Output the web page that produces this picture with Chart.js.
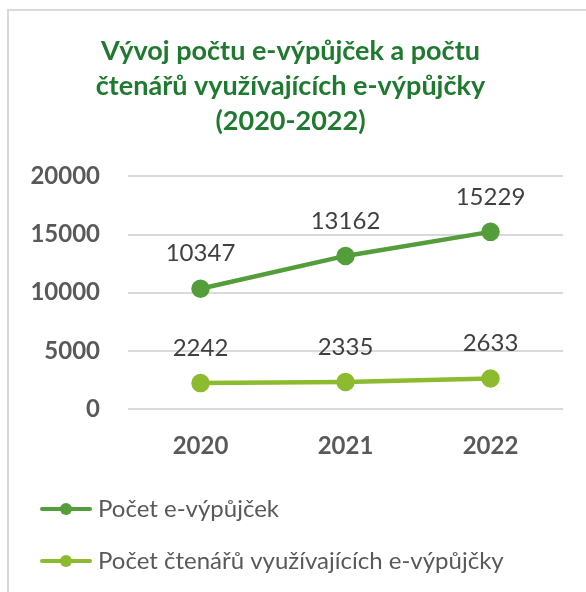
<!DOCTYPE html>
<html>
<head>
<meta charset="utf-8">
<script src="https://cdn.jsdelivr.net/npm/chart.js@4"></script>
<style>
  html, body { margin: 0; padding: 0; background: #fff; }
  #wrap { position: relative; width: 586px; height: 592px; }
  #frame {
    position: absolute; left: 7px; top: 9px; right: 0; bottom: 0;
    border-left: 2px solid #d9d9d9; border-top: 2px solid #d9d9d9;
  }
  canvas { position: absolute; left: 0; top: 0; }
</style>
</head>
<body>
<div id="wrap">
  <div id="frame"></div>
  <canvas id="chart" width="586" height="592"></canvas>
</div>
<script>
  const years = ["2020", "2021", "2022"];
  const loans = [10347, 13162, 15229];
  const readers = [2242, 2335, 2633];
  const seriesNames = ["Počet e-výpůjček", "Počet čtenářů využívajících e-výpůjčky"];
  const titleLines = ["Vývoj počtu e-výpůjček a počtu", "čtenářů využívajících e-výpůjčky", "(2020-2022)"];

  const FONT = "Lato, 'Open Sans', sans-serif";
  const dark = "#539d3b";
  const light = "#8dbb2f";

  // legend swatch: line with a dot in the middle
  function swatch(color) {
    const c = document.createElement("canvas");
    c.width = 52;
    c.height = 16;
    const g = c.getContext("2d");
    g.strokeStyle = color;
    g.lineWidth = 4;
    g.lineCap = "round";
    g.beginPath();
    g.moveTo(2, 8);
    g.lineTo(50, 8);
    g.stroke();
    g.fillStyle = color;
    g.beginPath();
    g.arc(26, 8, 6, 0, Math.PI * 2);
    g.fill();
    return c;
  }

  // values above each point
  const valueLabels = {
    id: "valueLabels",
    afterDatasetsDraw(chart) {
      const ctx = chart.ctx;
      ctx.save();
      ctx.font = `24px ${FONT}`;
      ctx.fillStyle = "#404040";
      ctx.textAlign = "center";
      ctx.textBaseline = "middle";
      chart.data.datasets.forEach((ds, i) => {
        chart.getDatasetMeta(i).data.forEach((pt, j) => {
          ctx.fillText(String(ds.data[j]), pt.x, pt.y - 35);
        });
      });
      ctx.restore();
    },
  };

  new Chart(document.getElementById("chart"), {
    type: "line",
    data: {
      labels: years,
      datasets: [
        {
          label: seriesNames[0],
          data: loans,
          borderColor: dark,
          backgroundColor: dark,
          borderWidth: 4.5,
          pointRadius: 7,
          pointHoverRadius: 7,
          legendSwatch: swatch(dark),
        },
        {
          label: seriesNames[1],
          data: readers,
          borderColor: light,
          backgroundColor: light,
          borderWidth: 4.5,
          pointRadius: 7,
          pointHoverRadius: 7,
          legendSwatch: swatch(light),
        },
      ],
    },
    options: {
      responsive: false,
      animation: false,
      layout: { padding: { left: 18, right: 23, top: 0, bottom: 9 } },
      plugins: {
        title: {
          display: true,
          text: titleLines,
          color: "#1f7a30",
          font: { family: FONT, size: 27, weight: "bold", lineHeight: 1.3 },
          padding: { top: 34, bottom: 37 },
        },
        legend: {
          display: true,
          position: "bottom",
          align: "start",
          labels: {
            usePointStyle: true,
            pointStyleWidth: 40,
            padding: 28,
            color: "#595959",
            font: { family: FONT, size: 24 },
            generateLabels(chart) {
              return chart.data.datasets.map((ds, i) => ({
                text: ds.label,
                fillStyle: ds.borderColor,
                strokeStyle: ds.borderColor,
                pointStyle: ds.legendSwatch,
                fontColor: "#595959",
                lineWidth: 0,
                hidden: false,
                datasetIndex: i,
              }));
            },
          },
        },
        tooltip: { enabled: false },
      },
      scales: {
        x: {
          offset: true,
          afterFit(scale) { scale.height -= 15; },
          grid: { display: false, drawTicks: false },
          border: { display: false },
          ticks: {
            color: "#595959",
            padding: 23,
            font: { family: FONT, size: 24, weight: "bold" },
          },
        },
        y: {
          min: 0,
          max: 20000,
          afterFit(scale) { scale.width = 110; },
          grid: { color: "#d9d9d9", lineWidth: 2, drawTicks: false },
          border: { display: false },
          ticks: {
            stepSize: 5000,
            color: "#595959",
            padding: 28,
            font: { family: FONT, size: 24, weight: "bold" },
            callback: (v) => String(v),
          },
        },
      },
    },
    plugins: [valueLabels],
  });
</script>
</body>
</html>
